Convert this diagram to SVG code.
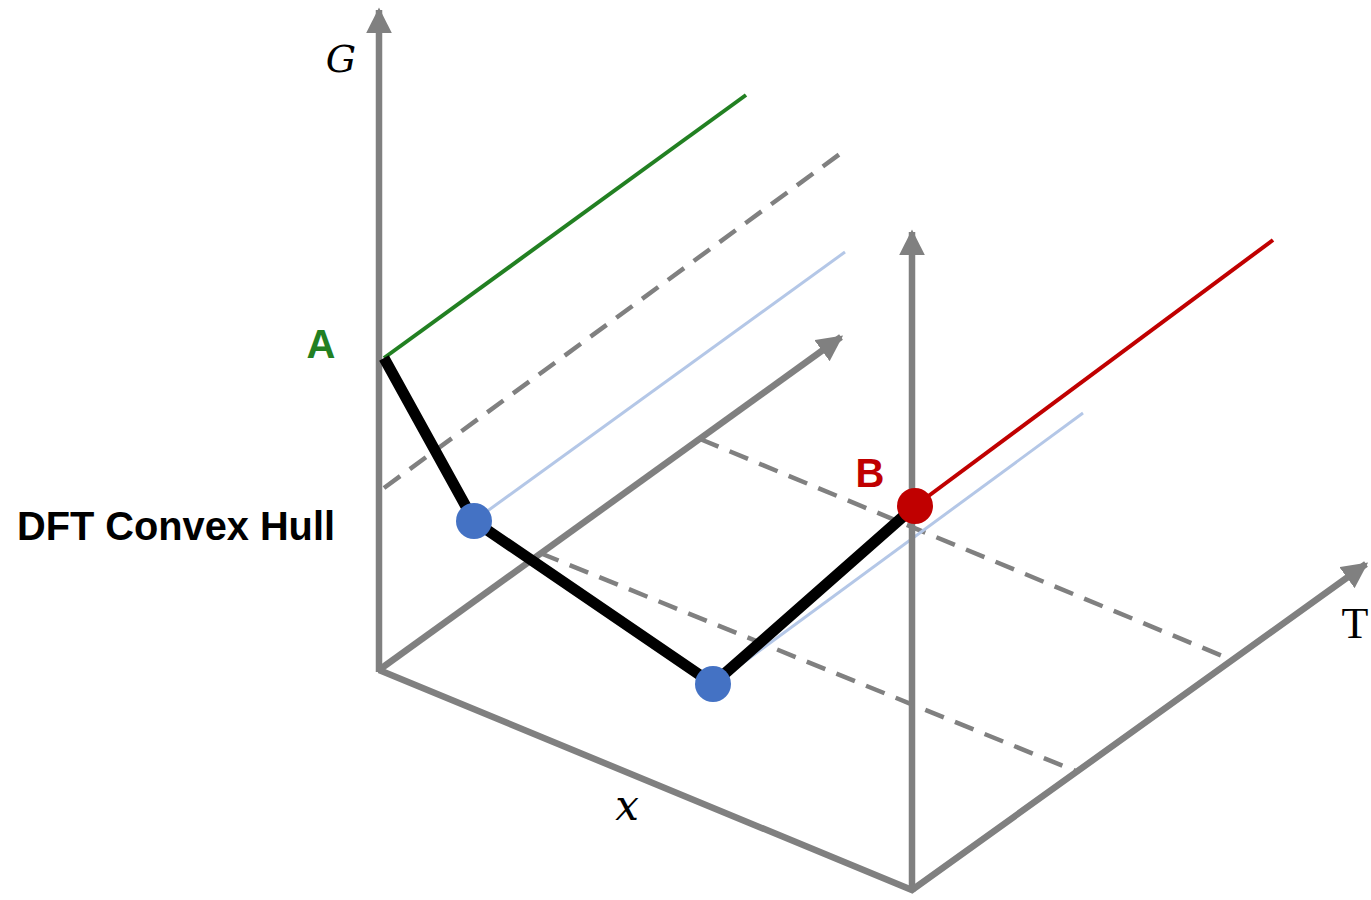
<svg xmlns="http://www.w3.org/2000/svg" width="1371" height="900" viewBox="0 0 1371 900">
<style>
.ax{stroke:#808080;stroke-width:6.5;fill:none}
.dash{stroke:#808080;stroke-width:4.5;stroke-dasharray:20,12;fill:none}
.lb{stroke:#b4c7e7;stroke-width:3;fill:none}
.lbl{font-family:"Liberation Sans",Arial,sans-serif;font-weight:bold}
.mth{font-family:"DejaVu Serif","Liberation Serif",serif}
</style>
<defs>
<marker id="ah" viewBox="0 0 10 10" refX="9" refY="5" markerWidth="4" markerHeight="4" orient="auto" markerUnits="strokeWidth">
<path d="M0,0 L10,5 L0,10 z" fill="#808080"/>
</marker>
</defs>
<rect width="1371" height="900" fill="#fff"/>
<g id="connectors">
<line class="dash" x1="384" y1="488" x2="848" y2="148"/>
<line class="dash" x1="540" y1="553" x2="1078" y2="772"/>
<line class="dash" x1="700" y1="439" x2="1232" y2="660"/>
<line class="lb" x1="475" y1="520" x2="845" y2="252"/>
<line class="lb" x1="713" y1="685" x2="1083" y2="413"/>
<line class="ax" x1="379" y1="672" x2="379" y2="10" marker-end="url(#ah)"/>
<line class="ax" x1="912" y1="892" x2="912" y2="232" marker-end="url(#ah)"/>
<line class="ax" x1="379" y1="670" x2="841" y2="337" marker-end="url(#ah)"/>
<polyline class="ax" points="379,670 912,890 1366,564" marker-end="url(#ah)"/>
<line stroke="#228022" stroke-width="4" x1="384" y1="358" x2="746" y2="95"/>
<line stroke="#c00000" stroke-width="4" x1="915" y1="506" x2="1273" y2="240"/>
<polyline points="384,358 474,521 713,684 915,506" fill="none" stroke="#000" stroke-width="11" stroke-linejoin="round"/>
</g>
<g id="pt1"><circle cx="474" cy="521" r="18" fill="#4472c4"/></g>
<g id="pt2"><circle cx="713" cy="684" r="18" fill="#4472c4"/></g>
<g id="ptB"><circle cx="915" cy="506" r="18" fill="#c00000"/></g>
<g id="labels">
<text class="mth" x="341" y="72" font-size="38" font-style="italic" text-anchor="middle">G</text>
<text class="lbl" x="321" y="358" font-size="40" fill="#228022" text-anchor="middle">A</text>
<text class="lbl" x="870" y="487" font-size="40" fill="#c00000" text-anchor="middle">B</text>
<text class="lbl" x="17" y="540" font-size="40" textLength="318" lengthAdjust="spacingAndGlyphs">DFT Convex Hull</text>
<text class="mth" x="627" y="820" font-size="42" font-style="italic" text-anchor="middle">x</text>
<text x="1355" y="638" font-size="44" text-anchor="middle" font-family="Liberation Serif,serif">T</text>
</g>
</svg>
